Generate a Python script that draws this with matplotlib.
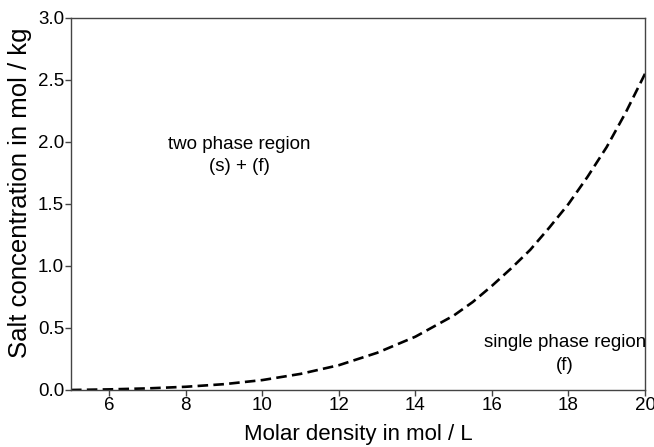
import matplotlib
matplotlib.use("Agg")
import matplotlib.pyplot as plt

plt.rcParams['font.family'] = ['Liberation Sans', 'DejaVu Sans']

# phase boundary
density = [5, 6, 7, 8, 9, 10, 11, 12, 13, 14, 15, 15.5, 16, 16.5, 17,
           17.5, 18, 18.5, 19, 19.5, 20]
salt = [0.0, 0.005, 0.013, 0.026, 0.047, 0.08, 0.13, 0.20, 0.30, 0.43,
        0.60, 0.71, 0.84, 0.98, 1.13, 1.31, 1.50, 1.72, 1.96, 2.24, 2.55]

xticks = [6, 8, 10, 12, 14, 16, 18, 20]
yticks = [0.0, 0.5, 1.0, 1.5, 2.0, 2.5, 3.0]

fig = plt.figure(figsize=(6.54, 4.47), dpi=100)
ax = fig.add_axes([71 / 654, 1 - 390 / 447, 574 / 654, 372 / 447])

ax.plot(density, salt, color='black', linestyle=(0, (4, 2)), linewidth=1.9)

ax.set_xlim(5, 20)
ax.set_ylim(0, 3.0)
ax.set_xticks(xticks)
ax.set_yticks(yticks)
ax.set_yticklabels([f"{v:.1f}" for v in yticks])

for s in ax.spines.values():
    s.set_color('#444444')
    s.set_linewidth(1.0)
ax.tick_params(direction='out', length=4, width=1, color='#444444',
               labelsize=13.5, pad=1)

ax.set_xlabel('Molar density in mol / L', fontsize=16, labelpad=7)
ax.set_ylabel('Salt concentration in mol / kg', fontsize=18.5)
ax.yaxis.set_label_coords(-0.068, 0.53)

ax.text(9.4, 1.89, 'two phase region\n(s) + (f)', ha='center', va='center',
        fontsize=13.5, linespacing=1.4)
ax.text(17.9, 0.29, 'single phase region\n(f)', ha='center', va='center',
        fontsize=13.5, linespacing=1.4)

fig.savefig('out.png', dpi=100)
